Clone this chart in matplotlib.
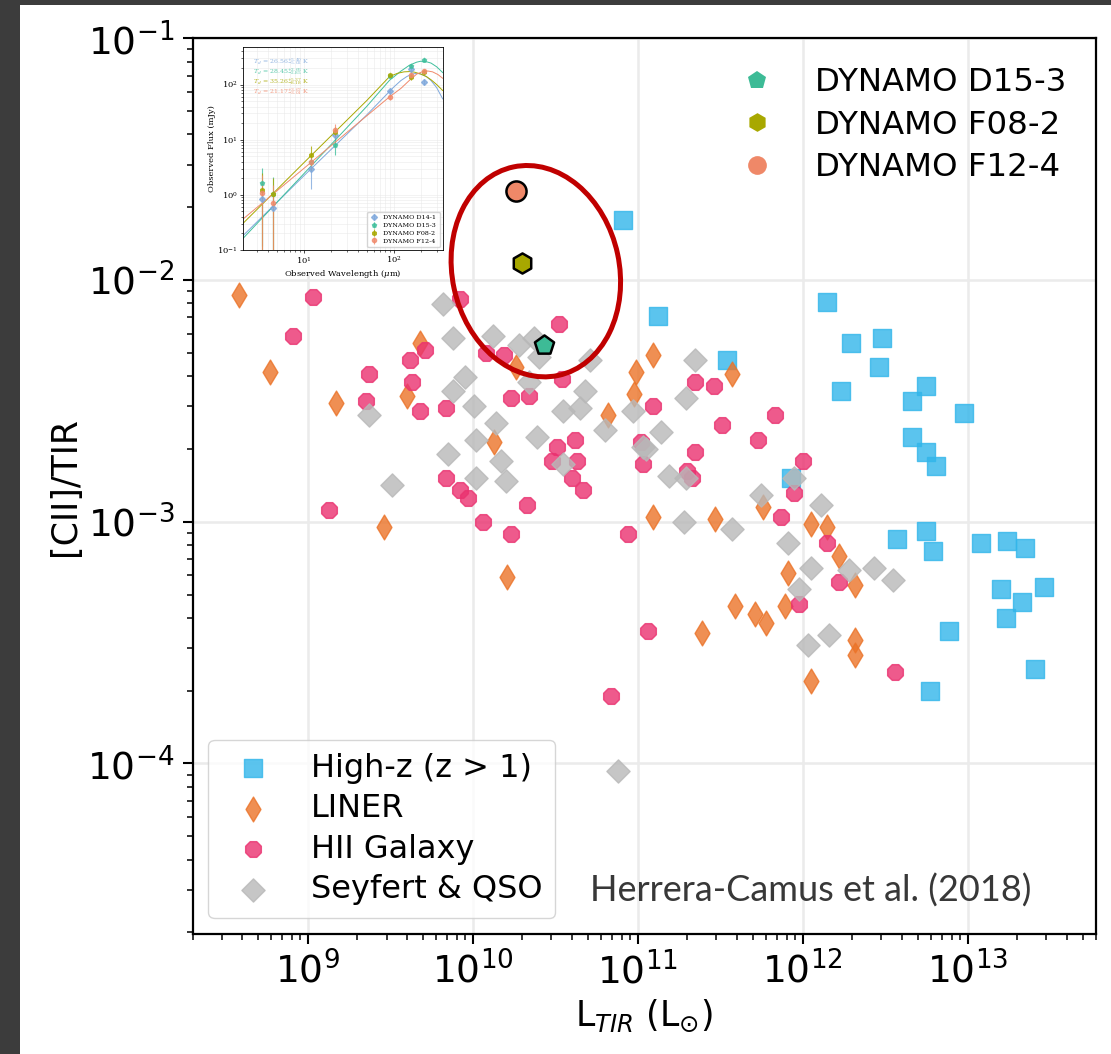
import numpy as np
import matplotlib
matplotlib.use("Agg")
import matplotlib.pyplot as plt
from matplotlib.lines import Line2D
from matplotlib.patches import Ellipse, Rectangle
from matplotlib.ticker import LogLocator, NullFormatter

# log10 L_TIR [Lsun] and log10 [CII]/TIR for the comparison samples
highz_logL = [10.91, 11.12, 11.54, 12.15, 12.29, 12.48, 12.46, 12.23, 12.75, 12.66,
              12.98, 12.66, 12.75, 12.81, 11.93, 12.57, 12.75, 12.79, 13.08, 13.24,
              13.35, 13.20, 13.46, 13.33, 13.23, 12.89, 13.41, 12.77]
highz_logR = [-1.75, -2.15, -2.33, -2.09, -2.26, -2.24, -2.36, -2.46, -2.44, -2.50,
              -2.55, -2.65, -2.71, -2.77, -2.82, -3.07, -3.04, -3.12, -3.09, -3.08,
              -3.11, -3.28, -3.27, -3.33, -3.40, -3.45, -3.61, -3.70]

liner_logL = [8.58, 8.77, 9.17, 9.68, 9.60, 10.13, 10.26, 9.46, 10.21, 11.09,
              10.99, 10.98, 10.82, 11.57, 11.09, 11.47, 11.76, 12.05, 12.15, 12.22,
              11.91, 12.32, 11.59, 11.71, 11.78, 11.89, 11.39, 12.32, 12.32, 12.05]
liner_logR = [-2.06, -2.38, -2.51, -2.26, -2.48, -2.67, -2.36, -3.02, -3.23, -2.31,
              -2.38, -2.47, -2.56, -2.39, -2.98, -2.99, -2.94, -3.01, -3.02, -3.14,
              -3.21, -3.26, -3.35, -3.38, -3.42, -3.35, -3.46, -3.49, -3.55, -3.66]

hii_logL = [9.03, 8.91, 9.37, 9.62, 9.71, 9.63, 9.35, 9.68, 9.84, 9.92,
            10.52, 10.08, 10.19, 10.54, 10.23, 10.34, 10.51, 10.62, 10.48, 10.63,
            10.60, 10.67, 9.84, 9.92, 9.97, 10.33, 10.06, 10.23, 9.13, 10.94,
            11.02, 11.03, 11.35, 11.46, 11.09, 11.51, 11.83, 11.73, 11.35, 11.30,
            11.33, 12.00, 11.95, 11.87, 12.15, 12.22, 11.98, 11.06, 12.56, 10.84]
hii_logR = [-2.07, -2.23, -2.39, -2.33, -2.29, -2.42, -2.50, -2.54, -2.53, -2.08,
            -2.18, -2.30, -2.31, -2.41, -2.49, -2.48, -2.69, -2.66, -2.75, -2.75,
            -2.82, -2.87, -2.82, -2.87, -2.90, -2.93, -3.00, -3.05, -2.95, -3.05,
            -2.67, -2.76, -2.42, -2.44, -2.52, -2.60, -2.56, -2.66, -2.71, -2.79,
            -2.82, -2.75, -2.88, -2.98, -3.09, -3.25, -3.34, -3.45, -3.62, -3.72]

sey_logL = [9.82, 9.88, 10.12, 10.28, 10.37, 10.40, 10.71, 9.95, 9.88, 10.34,
            10.01, 10.68, 10.55, 10.65, 10.14, 9.37, 10.39, 10.02, 9.85, 10.17,
            10.55, 10.97, 11.03, 10.80, 10.02, 10.20, 9.51, 11.35, 11.29, 11.14,
            11.05, 11.19, 11.29, 11.95, 11.75, 12.11, 11.28, 11.57, 11.91, 12.05,
            12.28, 12.43, 12.55, 11.98, 12.03, 12.16, 10.88]
sey_logR = [-2.10, -2.24, -2.23, -2.27, -2.24, -2.32, -2.33, -2.40, -2.46, -2.42,
            -2.52, -2.46, -2.54, -2.53, -2.59, -2.56, -2.65, -2.66, -2.72, -2.75,
            -2.76, -2.54, -2.69, -2.62, -2.82, -2.83, -2.85, -2.33, -2.49, -2.63,
            -2.70, -2.81, -2.82, -2.82, -2.89, -2.93, -3.00, -3.03, -3.09, -3.19,
            -3.20, -3.19, -3.24, -3.28, -3.51, -3.47, -4.03]

# DYNAMO galaxies (log10 L_TIR, log10 [CII]/TIR)
d15_3 = (10.43, -2.27)
f08_2 = (10.30, -1.93)
f12_4 = (10.26, -1.63)

# SEDs for the inset: observed wavelength [um], flux [mJy], error [mJy]
sed_wl = [3.4, 4.6, 12, 22, 90, 155, 215]
d14_1_flux = [0.83, 0.58, 3.0, 12, 78, 192, 112]
d14_1_err = [0.9, 0.6, 1.7, 3, 10, 30, 15]
d15_3_flux = [1.62, 1.05, 4.0, 8.0, 145, 215, 277]
d15_3_err = [1.5, 1.1, 1.0, 2.8, 10, 20, 20]
f08_2_flux = [1.2, 1.05, 5.3, 14, 148, 136, 170]
f08_2_err = [1.3, 1.0, 2.5, 3, 10, 15, 15]
f12_4_flux = [1.1, 0.72, 3.9, 15, 60, 152, 178]
f12_4_err = [1.2, 0.8, 1.0, 4, 8, 15, 15]

# best-fit curves
d14_1_fit_wl = [2.1, 10, 50, 100, 120, 140, 160, 180, 200, 230, 260, 300, 350]
d14_1_fit_f = [0.18, 2.2, 28, 90, 118, 140, 155, 160, 155, 140, 118, 88, 55]
d15_3_fit_wl = [2.1, 10, 50, 90, 120, 150, 180, 200, 230, 260, 300, 350]
d15_3_fit_f = [0.16, 2.4, 40, 120, 175, 225, 255, 265, 260, 245, 210, 165]
f08_2_fit_wl = [2.1, 10, 50, 90, 110, 130, 150, 170, 200, 230, 260, 300, 350]
f08_2_fit_f = [0.30, 3.8, 51, 140, 160, 170, 172, 168, 155, 140, 122, 100, 78]
f12_4_fit_wl = [2.1, 10, 50, 90, 120, 150, 180, 210, 240, 270, 310, 350]
f12_4_fit_f = [0.36, 3.0, 27, 60, 85, 120, 155, 172, 176, 170, 152, 130]

td_labels = [r'$T_d$ = 26.56$^{+5.40}_{-5.02}$ K',
             r'$T_d$ = 28.45$^{+2.66}_{-2.85}$ K',
             r'$T_d$ = 35.26$^{+5.37}_{-8.18}$ K',
             r'$T_d$ = 21.17$^{+3.67}_{-3.01}$ K']

plt.rcParams['font.family'] = ['DejaVu Sans']
plt.rcParams['mathtext.fontset'] = 'dejavusans'

W, H = 1111, 1054
fig = plt.figure(figsize=(W / 100, H / 100), dpi=100, facecolor='#3c3c3c')
fig.patches.append(Rectangle((20 / W, 0), 1, 1 - 5 / H, transform=fig.transFigure,
                             facecolor='white', edgecolor='none', zorder=-10))

x0, x1, y0, y1 = 192.5, 1096, 38.3, 934
ax = fig.add_axes([x0 / W, (H - y1) / H, (x1 - x0) / W, (y1 - y0) / H])
ax.set_xscale('log')
ax.set_yscale('log')
ax.set_xlim(2e8, 6e13)
ax.set_ylim(1.97e-5, 0.1)

ax.set_axisbelow(True)
ax.grid(True, which='major', color='#ebebeb', lw=1.8)

ax.scatter(10 ** np.array(highz_logL), 10 ** np.array(highz_logR), marker='s', s=170,
           color='#32b6ea', alpha=0.8, label='High-z (z > 1)', zorder=3)
ax.scatter(10 ** np.array(liner_logL), 10 ** np.array(liner_logR), marker='d', s=160,
           color='#eb7328', alpha=0.8, label='LINER', zorder=3)
ax.scatter(10 ** np.array(hii_logL), 10 ** np.array(hii_logR), marker='8', s=150,
           color='#ea316f', alpha=0.8, label='HII Galaxy', zorder=3)
ax.scatter(10 ** np.array(sey_logL), 10 ** np.array(sey_logR), marker='D', s=140,
           color='#b8b8b8', alpha=0.8, label='Seyfert & QSO', zorder=3)

dyn = [(d15_3, 'p', '#3dbb96', 'DYNAMO D15-3'),
       (f08_2, 'h', '#a8a800', 'DYNAMO F08-2'),
       (f12_4, 'o', '#ef8868', 'DYNAMO F12-4')]
dyn_handles = []
for (lx, ly), mk, col, name in dyn:
    ax.scatter([10 ** lx], [10 ** ly], marker=mk, s=210, color=col,
               edgecolor='black', linewidth=1.8, zorder=6)
    dyn_handles.append(Line2D([], [], ls='none', marker=mk, color=col,
                              markersize=13.5, markeredgewidth=0, label=name))

ax.add_patch(Ellipse((0.380, 0.740), 0.185, 0.238, angle=12, transform=ax.transAxes,
                     fill=False, edgecolor='#c00000', lw=3.6, zorder=7))

leg1 = ax.legend(handles=dyn_handles, loc='upper right', frameon=False,
                 fontsize=23.3, labelspacing=0.35)
ax.add_artist(leg1)
ax.legend(loc='lower left', fontsize=23, labelspacing=0.3)

ax.text(0.928, 0.036, 'Herrera-Camus et al. (2018)', transform=ax.transAxes,
        ha='right', va='baseline', fontsize=26, family='Lato', weight='normal',
        color='#383838')

ax.set_xlabel(r'L$_{TIR}$ (L$_{\odot}$)', fontsize=25)
ax.set_ylabel('[CII]/TIR', fontsize=25)
for axis in (ax.xaxis, ax.yaxis):
    axis.set_minor_locator(LogLocator(base=10, subs=np.arange(2, 10), numticks=100))
    axis.set_minor_formatter(NullFormatter())
ax.tick_params(which='major', direction='out', length=7, width=1.5, labelsize=27, pad=6)
ax.tick_params(which='minor', direction='out', length=4, width=1.1)
for sp in ax.spines.values():
    sp.set_linewidth(1.6)

# white backdrop for the SED inset
ax.add_patch(Rectangle(((195 - x0) / (x1 - x0), (y1 - 273) / (y1 - y0)),
                       252 / (x1 - x0), 233 / (y1 - y0), transform=ax.transAxes,
                       facecolor='white', edgecolor='none', zorder=1))

# SED inset
axin = fig.add_axes([242.7 / W, (H - 250) / H, 200 / W, 203 / H])
axin.set_zorder(8)
axin.set_xscale('log')
axin.set_yscale('log')
seds = [('DYNAMO D14-1', 'D', '#7fa8dc', d14_1_flux, d14_1_err, d14_1_fit_wl, d14_1_fit_f),
        ('DYNAMO D15-3', 'p', '#3fbf9c', d15_3_flux, d15_3_err, d15_3_fit_wl, d15_3_fit_f),
        ('DYNAMO F08-2', 'h', '#a8a800', f08_2_flux, f08_2_err, f08_2_fit_wl, f08_2_fit_f),
        ('DYNAMO F12-4', 'o', '#f08a6c', f12_4_flux, f12_4_err, f12_4_fit_wl, f12_4_fit_f)]
for i, (name, mk, col, flux, err, fwl, ff) in enumerate(seds):
    axin.errorbar(sed_wl, flux, yerr=err, fmt=mk, color=col, ms=3, elinewidth=0.8,
                  capsize=0, alpha=0.8, label=name)
    axin.plot(fwl, ff, color=col, lw=0.7)
    axin.text(0.05, 0.928 - 0.049 * i, td_labels[i], transform=axin.transAxes,
              fontsize=4.5, color=col, family='DejaVu Serif',
              math_fontfamily='dejavuserif', va='center', alpha=0.85)
axin.set_xlim(2.1, 350)
axin.set_ylim(0.1, 480)
axin.grid(True, which='both', color='#eaeaea', lw=0.4)
axin.set_xticks([10, 100], [r'$10^{1}$', r'$10^{2}$'], fontsize=6,
                math_fontfamily='dejavuserif')
axin.set_yticks([0.1, 1, 10, 100], [r'$10^{-1}$', r'$10^{0}$', r'$10^{1}$', r'$10^{2}$'],
                fontsize=6, math_fontfamily='dejavuserif')
axin.xaxis.set_minor_formatter(NullFormatter())
axin.yaxis.set_minor_formatter(NullFormatter())
axin.tick_params(which='major', length=2, width=0.5, pad=1.5)
axin.tick_params(which='minor', length=1.2, width=0.4)
for sp in axin.spines.values():
    sp.set_linewidth(0.6)
axin.set_xlabel(r'Observed Wavelength ($\mu$m)', fontsize=6, family='DejaVu Serif',
                math_fontfamily='dejavuserif', labelpad=1)
axin.set_ylabel('Observed Flux (mJy)', fontsize=6, family='DejaVu Serif', labelpad=1)
axin.legend(loc='lower right', prop={'family': 'DejaVu Serif', 'size': 4.6},
            handlelength=1.2, borderpad=0.5, labelspacing=0.35)

fig.savefig('out.png', dpi=100, facecolor=fig.get_facecolor())
